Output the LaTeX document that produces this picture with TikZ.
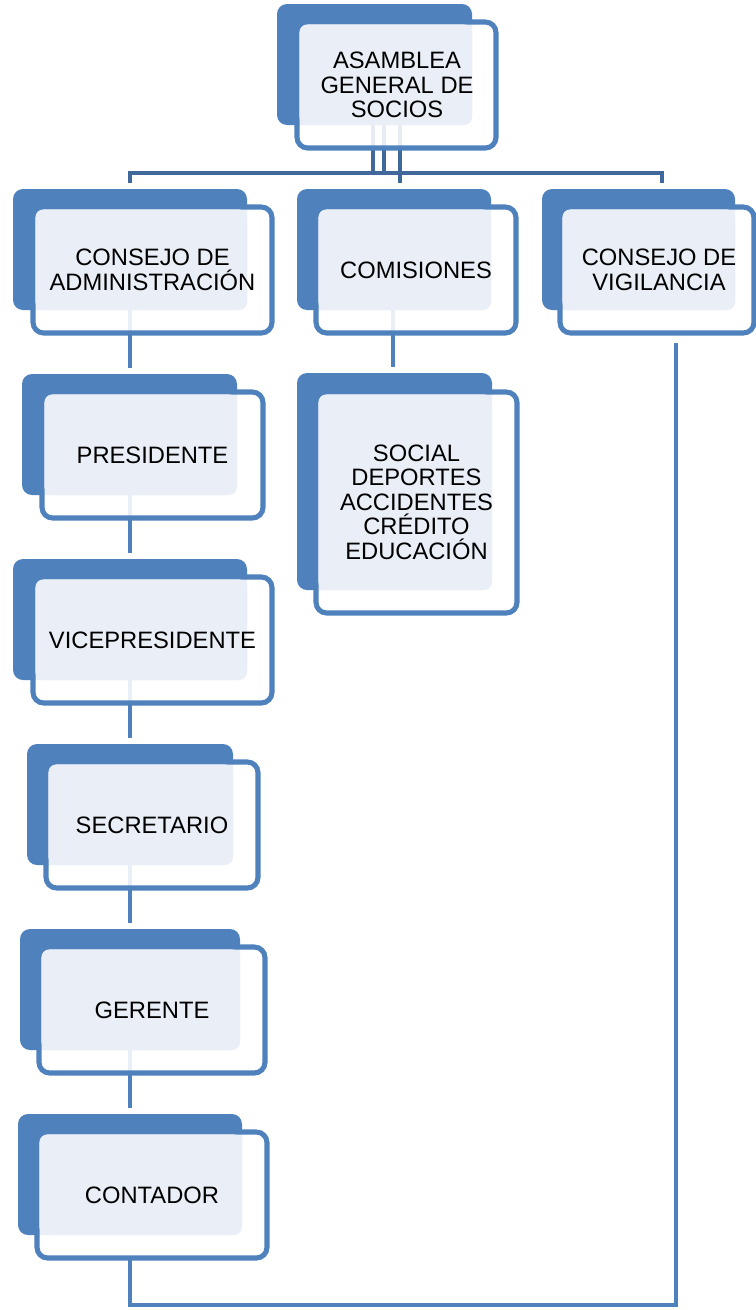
\documentclass[tikz,border=0pt]{standalone}
\usepackage{fontspec}
\setmainfont{Liberation Sans}
\usetikzlibrary{fit}
\pgfdeclarelayer{background}
\pgfsetlayers{background,main}

\definecolor{unitblue}{RGB}{79,129,189}
\definecolor{unitpale}{RGB}{234,239,247}
\definecolor{busblue}{RGB}{64,104,154}

\tikzset{
  backbox/.style={fill=unitblue, rounded corners=7.5pt, inner sep=0pt, outer sep=0pt},
  frontbox/.style={draw=unitblue, line width=3.8pt, fill=white, fill opacity=0.88,
                   rounded corners=8pt, inner sep=0pt, outer sep=0pt},
  palebox/.style={fill=unitpale, rounded corners=6pt},
  unittext/.style={align=center, font=\fontsize{17.8pt}{18.4pt}\selectfont,
                   inner sep=0pt, text=black},
  conn/.style={draw=unitblue, line width=3.3pt},
  busconn/.style={draw=busblue, line width=3.1pt},
}

% #1 name, #2 back corners, #3 front corners, #4 text position, #5 text
\newcommand\orgunit[5]{%
  \node[backbox, fit={#2}] (#1b) {};
  \node[frontbox, fit={#3}] (#1) {};
  \fill[palebox] ([xshift=1.8pt,yshift=-1.8pt]#1.north west) rectangle (#1b.south east);
  \node[unittext] (#1t) at (#4) {#5};
}

\begin{document}
\begin{tikzpicture}[x=0.75pt,y=-0.75pt]
\useasboundingbox (0,0) rectangle (756,1310);

% units
\orgunit{asamblea}{(277,4) (472,125)}{(297,22) (496,148)}{397,85}{ASAMBLEA\\GENERAL DE\\SOCIOS}
\orgunit{adm}{(13,189) (247,310)}{(33,207) (272,333)}{152.5,270}{CONSEJO DE\\ADMINISTRACIÓN}
\orgunit{com}{(297,189) (491,310)}{(316,207) (516,333)}{416,270}{COMISIONES}
\orgunit{vig}{(542,189) (735,310)}{(560,207) (754,333)}{659,270}{CONSEJO DE\\VIGILANCIA}
\orgunit{social}{(297,373) (492,590)}{(316,392) (517,613)}{416.5,502}{SOCIAL\\DEPORTES\\ACCIDENTES\\CRÉDITO\\EDUCACIÓN}
\orgunit{pres}{(22,374) (237,495)}{(42,392) (263,518)}{152.5,455}{PRESIDENTE}
\orgunit{vice}{(13,559) (247,680)}{(33,577) (272,703)}{152.5,640}{VICEPRESIDENTE}
\orgunit{secr}{(27,744) (233,865)}{(46,762) (258,888)}{152,825}{SECRETARIO}
\orgunit{ger}{(20,929) (240,1050)}{(39,947) (265,1073)}{152,1010}{GERENTE}
\orgunit{cont}{(18,1114) (242,1235)}{(37,1132) (267,1258)}{152,1195}{CONTADOR}

% connector columns and bends
\coordinate (colL) at (130,0);
\coordinate (colM) at (393,0);
\coordinate (colR) at (662,0);
\coordinate (busToR) at (373,173);
\coordinate (busToL) at (384,173);
\coordinate (busToM) at (400,0);
\coordinate (baseR) at (676,1305);
\coordinate (vigfoot) at (676,343);

\begin{pgfonlayer}{background}
  % from the assembly to the three bodies
  \draw[busconn, shorten >=4.5pt] (asamblea.center -| busToL) -- (busToL) -| (admb.north -| colL);
  \draw[busconn, shorten >=4.5pt] (asamblea.center -| busToR) -- (busToR) -| (vigb.north -| colR);
  \draw[busconn, shorten >=4.5pt] (asamblea.center -| busToM) -- (comb.north -| busToM);
  % administration chain
  \draw[conn, shorten >=4.5pt] (adm.center -| colL) -- (presb.north -| colL);
  \draw[conn, shorten >=4.5pt] (pres.center -| colL) -- (viceb.north -| colL);
  \draw[conn, shorten >=4.5pt] (vice.center -| colL) -- (secrb.north -| colL);
  \draw[conn, shorten >=4.5pt] (secr.center -| colL) -- (gerb.north -| colL);
  \draw[conn, shorten >=4.5pt] (ger.center -| colL) -- (contb.north -| colL);
  % committees
  \draw[conn, shorten >=4.5pt] (com.center -| colM) -- (socialb.north -| colM);
  % accountant back up to the supervisory board
  \draw[conn] (cont.south -| colL) |- (baseR) -- (vigfoot);
\end{pgfonlayer}
\end{tikzpicture}
\end{document}
